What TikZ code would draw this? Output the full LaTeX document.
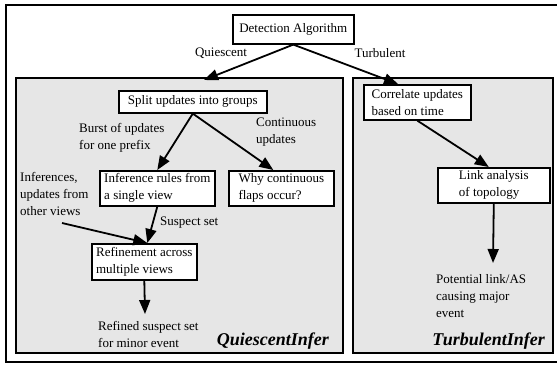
\documentclass[tikz,border=0pt]{standalone}
\usepackage{fontspec}
\setmainfont{Liberation Serif}
\usetikzlibrary{arrows.meta,calc}
\definecolor{panelgray}{HTML}{E6E6E6}
\begin{document}
\begin{tikzpicture}[x=1pt,y=-1pt,
  txt/.style={font=\fontsize{13}{17}\selectfont},
  box/.style={txt,draw,line width=1.6pt,fill=white,align=left,inner sep=0pt,anchor=north west},
  lbl/.style={txt,align=left,inner sep=0pt},
  panel/.style={draw,line width=1.6pt,fill=panelgray},
  flow/.style={line width=1.8pt,-{Triangle[length=14pt,width=11pt]}},
  title/.style={font=\fontsize{18}{20}\selectfont\bfseries\itshape,inner sep=0pt}]
\useasboundingbox (0,0) rectangle (557,367);
\clip (0,0) rectangle (557,367);

% outer frame and the two panels
\draw[line width=2pt] (6,5) rectangle (570,362);
\draw[panel] (16,78) rectangle (343,353);
\draw[panel] (353,78) rectangle (553,353);

% boxes
\node[box,minimum width=121pt,minimum height=29pt] (det) at (232,14) {Detection Algorithm};
\node[box,minimum width=148pt,minimum height=22pt] (split) at (118,90) {Split updates into groups};
\node[box,minimum width=107pt,minimum height=35pt] (corr) at (363,84) {Correlate updates\\based on time};
\node[box,minimum width=115pt,minimum height=35pt] (inf) at (99,170) {Inference rules from\\a single view};
\node[box,minimum width=105pt,minimum height=35pt] (why) at (228,170) {Why continuous\\flaps occur?};
\node[box,minimum width=112pt,minimum height=35pt] (link) at (437,167) {Link analysis\\of topology};
\node[box,minimum width=105pt,minimum height=36pt] (ref) at (91,243) {Refinement across\\multiple views};

% free labels
\node[lbl,anchor=center] (quies) at (221,53) {Quiescent};
\node[lbl,anchor=center] (turb) at (380,53) {Turbulent};
\node[lbl,anchor=north west] (burst) at (79,123) {Burst of updates\\for one prefix};
\node[lbl,anchor=north west] (cont) at (256,118) {Continuous\\updates};
\node[lbl,anchor=north west] (infs) at (20,172) {Inferences,\\updates from\\other views};
\node[lbl,anchor=west] (susp) at (160,223) {Suspect set};
\node[lbl,anchor=north west] (refined) at (98,321) {Refined suspect set\\for minor event};
\node[lbl,anchor=north west] (pot) at (436,274) {Potential link/AS\\causing major\\event};

\node[title,anchor=base east] (qtitle) at (329,345) {QuiescentInfer};
\node[title,anchor=base east] (ttitle) at (545,345) {TurbulentInfer};

% free ends of connectors
\coordinate (qend) at (204,80);
\coordinate (ivstart) at (62,223);
\coordinate (refend) at (145,314);
\coordinate (potend) at (493,263);

% connectors
\draw[flow] (det.south) -- (qend);
\draw[flow] (det.south) -- ($(corr.north west)+(35,0)$);
\draw[flow] (split.south) -- (inf.north);
\draw[flow] (split.south) -- ($(why.north)+(-8,0)$);
\draw[flow] (inf.south) -- ($(ref.north)+(3,0)$);
\draw[flow] (ivstart) -- ($(ref.north)+(3,0)$);
\draw[flow] (ref.south) -- (refend);
\draw[flow] (corr.south) -- ($(link.north)+(-5,0)$);
\draw[flow] (link.south) -- (potend);
\end{tikzpicture}
\end{document}
